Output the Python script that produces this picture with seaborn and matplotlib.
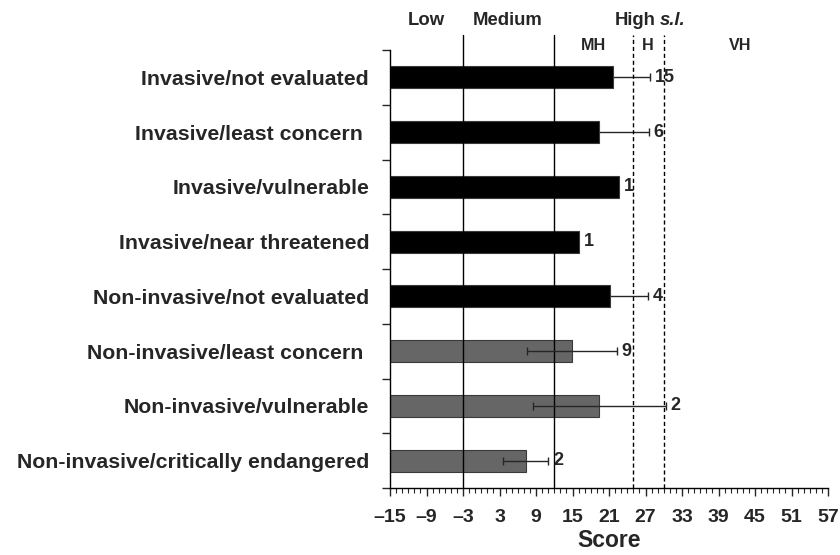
import matplotlib
matplotlib.use("Agg")
import numpy as np
import pandas as pd
import seaborn as sns
from matplotlib import pyplot as plt
from matplotlib.ticker import MultipleLocator, FixedLocator

categories = [
    "Invasive/not evaluated",
    "Invasive/least concern ",
    "Invasive/vulnerable",
    "Invasive/near threatened",
    "Non-invasive/not evaluated",
    "Non-invasive/least concern ",
    "Non-invasive/vulnerable",
    "Non-invasive/critically endangered",
]
groups = ["Invasive"] * 5 + ["Non-invasive"] * 3
scores = [21.7, 19.3, 22.7, 16.0, 21.2, 14.9, 19.4, 7.3]
errors = [6.1, 8.2, 0.0, 0.0, 6.2, 7.35, 10.9, 3.7]
counts = ["15", "6", "1", "1", "4", "9", "2", "2"]

x_min, x_max = -15, 57
class_bounds = [-3, 12]
high_bounds = [25, 30]
header_top = [("Low", -9.0), ("Medium", 4.4)]
header_sub = [("MH", 18.4), ("H", 27.4), ("VH", 42.6)]

df = pd.DataFrame({"category": categories, "group": groups,
                   "score": scores, "err": errors, "n": counts})
palette = {"Invasive": "#000000", "Non-invasive": "#666666"}

sns.set_style("ticks")
plt.rcParams["font.family"] = ["Liberation Sans", "DejaVu Sans"]
plt.rcParams["font.weight"] = "bold"

fig = plt.figure(figsize=(8.4, 5.55), dpi=100)
ax = fig.add_axes([390 / 840, 67 / 555, 438 / 840, 438 / 555])

# bars start at the left end of the score axis, not at zero
ypos = np.arange(len(df))
ax.barh(ypos, df["score"] - x_min, left=x_min, height=0.4,
        color=df["group"].map(palette), edgecolor="#3a3a3a", linewidth=0.8,
        zorder=3)

for i, row in df.iterrows():
    if row.err > 0:
        # on the black bars the inner half of the bar is hidden
        z = 2 if row.group == "Invasive" else 5
        ax.errorbar(row.score, i, xerr=row.err, fmt="none", ecolor="#262626",
                    elinewidth=1, capsize=3, capthick=1, zorder=z)
    ax.text(row.score + row.err + 0.8, i, row.n, va="center", ha="left",
            fontsize=13, fontweight="bold", zorder=6)

ax.set_yticks(ypos)
ax.set_yticklabels(categories)
ax.set_xlim(x_min, x_max)
ax.set_ylim(len(categories) - 0.5, -0.5)

# class boundaries, drawn a bit above the plot area
extra = 1 + 15 / 438
for b in class_bounds:
    ax.axvline(b, ymin=0, ymax=extra, color="black", lw=1, clip_on=False,
               zorder=4)
for b in high_bounds:
    ax.axvline(b, ymin=0, ymax=extra, color="black", lw=1, ls=(0, (3, 2)),
               clip_on=False, zorder=4)

trans = ax.get_xaxis_transform()
for txt, xpos in header_top:
    ax.text(xpos, 1.068, txt, transform=trans, ha="center", va="center",
            fontsize=13.3, fontweight="bold")
ax.text(28.6, 1.068, "High", transform=trans, ha="right", va="center",
        fontsize=13.3, fontweight="bold")
ax.text(29.3, 1.068, "s.l.", transform=trans, ha="left", va="center",
        fontsize=13.3, fontweight="bold", style="italic")
for txt, xpos in header_sub:
    ax.text(xpos, 1.011, txt, transform=trans, ha="center", va="center",
            fontsize=11.6, fontweight="bold")

xt = np.arange(x_min, x_max + 1, 6)
ax.set_xticks(xt)
ax.set_xticklabels([str(v).replace("-", "\u2013") for v in xt],
                   fontweight="bold")
ax.xaxis.set_minor_locator(MultipleLocator(1))
ax.tick_params(axis="x", which="major", length=6, width=1, labelsize=14, pad=9)
ax.tick_params(axis="x", which="minor", length=3.5, width=0.8)

ax.yaxis.set_minor_locator(FixedLocator(np.arange(-0.5, len(categories), 1)))
ax.tick_params(axis="y", which="major", length=0, labelsize=15.3, pad=15)
ax.tick_params(axis="y", which="minor", length=6, width=1)
for lab in ax.get_yticklabels():
    lab.set_fontweight("bold")

ax.set_xlabel("Score", fontsize=16.5, fontweight="bold", labelpad=2)
ax.set_ylabel("")
sns.despine(ax=ax, top=True, right=True)
for sp in ["left", "bottom"]:
    ax.spines[sp].set_linewidth(1)
    ax.spines[sp].set_color("black")
    ax.spines[sp].set_zorder(4)

fig.savefig("out.png", dpi=100)
